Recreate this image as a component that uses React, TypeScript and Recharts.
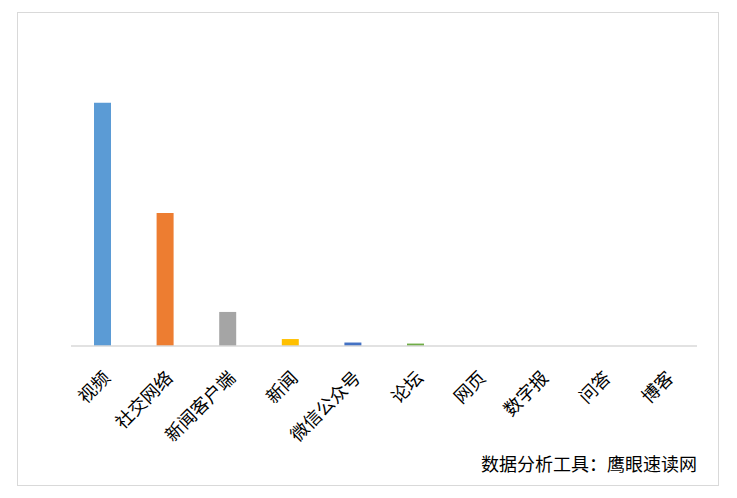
import { BarChart, Bar, XAxis, YAxis, Cell } from 'recharts'

const categories = ['视频', '社交网络', '新闻客户端', '新闻', '微信公众号', '论坛', '网页', '数字报', '问答', '博客']
const values = [70, 38.3, 9.8, 2.0, 1.0, 0.7, 0, 0, 0, 0]
const colors = ['#5b9bd5', '#ed7d31', '#a5a5a5', '#ffc000', '#4472c4', '#70ad47', '#255e91', '#9e480e', '#636363', '#997300']

const data = categories.map((name, i) => ({ name, value: values[i] }))

const FONT = '"Noto Sans CJK SC", "Noto Sans", sans-serif'

function AngledTick(props: any) {
  const { x, y, payload } = props
  const ax = x + 9
  const ay = y + 25
  return (
    <text
      x={ax}
      y={ay}
      transform={`rotate(-45, ${ax}, ${ay})`}
      textAnchor="end"
      fontSize={18}
      fontFamily={FONT}
      fill="#000"
    >
      {payload.value}
    </text>
  )
}

export default function App() {
  return (
    <div style={{ position: 'absolute', left: 0, top: 0, width: 737, height: 498, background: '#fff' }}>
      <div
        style={{
          position: 'absolute',
          left: 17,
          top: 12,
          width: 702,
          height: 474,
          border: '1.5px solid #d9d9d9',
          boxSizing: 'border-box',
        }}
      />
      <BarChart
        width={737}
        height={498}
        data={data}
        margin={{ top: 68, right: 40, left: 71, bottom: 0 }}
        barCategoryGap={0}
        style={{ position: 'absolute', left: 0, top: 0 }}
      >
        <XAxis
          dataKey="name"
          interval={0}
          tickLine={false}
          axisLine={{ stroke: '#d9d9d9', strokeWidth: 1.5 }}
          tick={<AngledTick />}
          height={152}
        />
        <YAxis hide domain={[0, 80]} />
        <Bar dataKey="value" barSize={17} isAnimationActive={false}>
          {data.map((_, i) => (
            <Cell key={i} fill={colors[i]} />
          ))}
        </Bar>
      </BarChart>
      <div
        style={{
          position: 'absolute',
          right: 40,
          top: 450,
          fontSize: 18,
          fontFamily: FONT,
          color: '#000',
          whiteSpace: 'nowrap',
        }}
      >
        数据分析工具：鹰眼速读网
      </div>
    </div>
  )
}
